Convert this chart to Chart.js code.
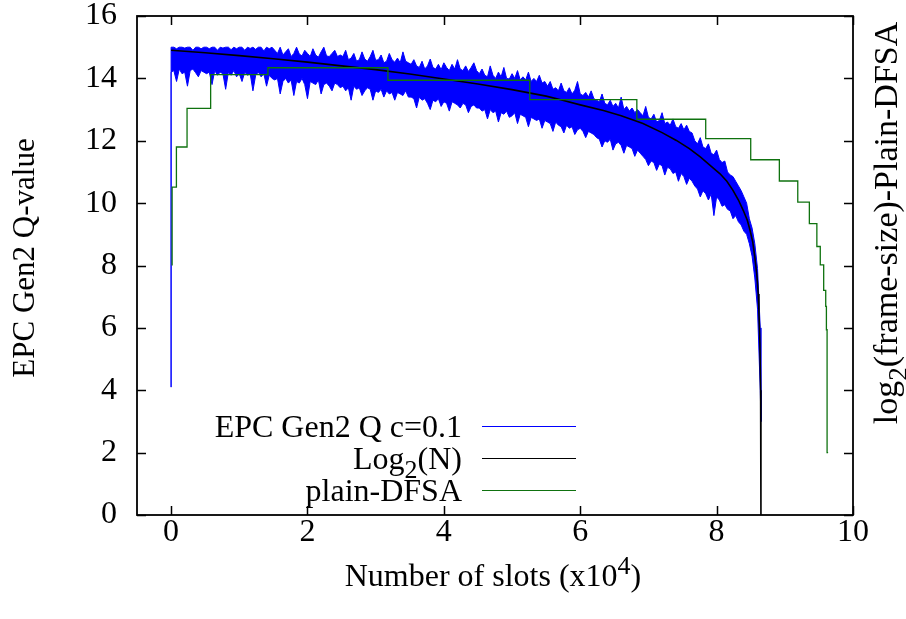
<!DOCTYPE html>
<html><head><meta charset="utf-8">
<script src="https://cdn.jsdelivr.net/npm/chart.js@4/dist/chart.umd.min.js"></script>
<style>html,body{margin:0;padding:0;background:#fff}canvas{display:block}</style>
</head><body>
<canvas id="c" width="906" height="619"></canvas>
<script>
// ---- data ----
const xTicks = [0, 2, 4, 6, 8, 10];
const yTicks = [0, 2, 4, 6, 8, 10, 12, 14, 16];

// EPC Gen2 Q c=0.1 : noisy trace, read as an upper and lower edge every blueStep (x10^4 slots)
const blueStep = 0.04;
const blueStartPoint = [0, 4.1];
const blueEndPoint = [8.65, 3.0];
const blueUpper = [
  15.0,15.0,14.95,15.0,15.0,14.97,15.0,15.0,14.9,15.0,15.0,14.95,15.0,
  15.0,14.95,15.0,15.0,14.9,15.0,14.97,15.0,15.0,14.92,15.0,14.95,15.0,15.0,14.9,15.0,14.96,15.0,14.93,15.0,15.0,14.88,15.0,14.95,15.0,
  14.9,14.8,15.0,14.75,14.85,14.95,14.7,14.8,15.0,14.78,14.72,14.9,14.8,14.7,14.95,14.75,14.68,14.85,15.0,14.72,14.7,14.8,14.9,14.7,14.75,
  14.7,14.9,14.6,14.65,14.8,14.55,14.6,14.85,14.62,14.55,14.7,14.9,14.58,14.6,14.75,14.5,14.55,14.8,14.6,14.52,14.65,14.5,14.85,14.55,14.5,
  14.45,14.6,14.4,14.35,14.55,14.3,14.4,14.62,14.35,14.3,14.45,14.28,14.5,14.35,14.25,14.45,14.3,14.6,14.3,14.25,14.4,14.22,14.35,14.5,14.25,
  14.15,14.3,14.1,14.05,14.4,14.1,14.0,14.2,14.05,14.35,14.0,13.98,14.15,14.0,14.25,13.95,14.05,13.95,14.2,13.9,14.0,13.9,14.1,13.85,13.9,
  13.75,13.9,13.65,13.7,13.6,13.85,13.6,13.55,13.7,13.5,13.62,13.9,13.5,13.45,13.55,13.4,13.6,13.35,
  13.3,13.25,13.5,13.2,13.15,13.3,13.1,13.2,13.05,13.4,13.0,13.1,12.95,13.05,12.9,13.0,12.9,
  12.8,13.1,12.75,12.7,12.85,12.6,12.65,12.9,12.55,12.6,12.5,12.7,12.45,12.4,12.55,12.35,12.5,12.3,12.25,
  12.0,11.9,12.1,11.8,11.75,11.9,11.6,11.55,11.7,11.4,11.3,11.35,
  11.0,10.9,10.85,10.7,10.55,10.4,10.2,10.0,
  9.5,9.2,8.7,7.9,6.0
];
const blueLower = [
  14.2,14.25,13.9,14.3,14.15,14.2,13.75,14.25,14.3,14.18,14.05,14.25,14.2,
  14.15,14.2,13.8,14.25,14.1,14.2,14.15,13.65,14.2,14.1,14.25,14.05,14.15,13.9,14.2,14.1,14.15,13.6,14.1,14.2,14.05,14.15,13.75,14.1,14.0,
  13.95,14.0,13.5,13.9,14.0,13.85,13.95,13.45,13.9,13.85,14.0,13.8,13.35,13.9,13.85,13.8,13.95,13.5,13.8,13.85,13.75,13.6,13.85,13.8,13.7,
  13.75,13.6,13.7,13.3,13.75,13.65,13.7,13.45,13.6,13.7,13.65,13.3,13.6,13.55,13.65,13.4,13.6,13.5,13.55,13.3,13.55,13.5,13.45,13.6,13.4,
  13.4,13.35,13.05,13.4,13.3,13.35,13.2,13.0,13.3,13.25,13.35,13.1,13.25,13.2,12.95,13.25,13.2,13.15,13.05,13.2,13.15,12.9,13.1,13.15,13.05,
  13.05,12.95,13.0,12.7,13.0,12.9,12.95,12.6,12.9,12.85,12.95,12.75,12.8,12.9,12.55,12.85,12.8,12.75,12.45,12.75,12.7,12.65,12.7,12.4,12.65,
  12.6,12.55,12.3,12.6,12.5,12.45,12.25,12.5,12.4,12.45,12.2,12.35,12.4,12.3,12.1,12.3,12.25,12.2,
  12.1,12.05,11.8,12.0,11.95,12.05,11.7,11.9,11.95,11.85,11.6,11.85,11.8,11.75,11.5,11.7,11.6,
  11.5,11.4,11.2,11.35,11.3,11.05,11.25,11.2,10.9,11.15,11.1,10.95,11.0,10.7,10.95,10.85,10.6,10.8,10.7,
  10.55,10.45,10.2,10.4,10.3,10.1,10.3,9.6,10.2,10.1,9.9,9.95,
  9.8,9.75,9.5,9.6,9.4,9.3,9.1,9.0,
  8.7,8.3,7.6,6.6,4.0
];

// Log2(N)
const log2X = [0,0.5,1,1.5,2,2.5,3,3.5,4,4.5,5,5.5,5.7,6,6.34,6.6,6.92,7.2,7.41,7.6,7.76,7.9,8.05,8.15,8.24,8.32,8.39,8.45,8.49,8.53,8.56,8.59,8.61,8.62,8.635,8.645,8.65];
const log2Y = [14.9,14.82,14.73,14.63,14.52,14.40,14.28,14.14,13.98,13.82,13.64,13.43,13.32,13.15,12.97,12.8,12.55,12.26,12.01,11.75,11.48,11.22,10.94,10.70,10.41,10.1,9.77,9.45,9.13,8.75,8.27,7.7,7.09,6.56,5.5,4.0,0];

// plain-DFSA (step line)
const dfsaX = [0.015,0.015,0.078,0.234,0.58,1.42,3.18,5.26,6.83,7.84,8.50,8.92,9.19,9.36,9.47,9.52,9.57,9.60,9.61,9.62,9.635];
const dfsaY = [8.0,9.26,10.51,11.8,13.04,14.12,14.34,13.94,13.32,12.69,12.07,11.39,10.71,10.03,9.34,8.61,8.02,7.2,6.69,5.94,2.0];

// ---- build datasets ----
const toPts = arr => arr.map((v, i) => ({x: +(i * blueStep).toFixed(3), y: v}));
const blueUpperData = [{x: blueStartPoint[0], y: blueStartPoint[1]}]
  .concat(toPts(blueUpper)).concat([{x: blueEndPoint[0], y: blueEndPoint[1]}]);
const blueLowerData = [{x: blueStartPoint[0], y: blueStartPoint[1]}]
  .concat(toPts(blueLower)).concat([{x: blueEndPoint[0], y: blueEndPoint[1]}]);
const log2Data = log2X.map((x, i) => ({x, y: log2Y[i]}));
const dfsaData = dfsaX.map((x, i) => ({x, y: dfsaY[i]}));

const FONT = "'Liberation Serif','Times New Roman',Times,serif";
const FS = 32;
const BLUE = '#0000ff', BLACK = '#000000', GREEN = '#0f720f';

function drawRich(ctx, segs, x, y, align, size) {
  let total = 0;
  const fontOf = s => ((s.sub || s.sup) ? Math.round(size * 0.8) : size) + 'px ' + FONT;
  const widths = segs.map(s => { ctx.font = fontOf(s); const w = ctx.measureText(s.t).width; total += w; return w; });
  let cx = align === 'right' ? x - total : (align === 'center' ? x - total / 2 : x);
  ctx.textAlign = 'left';
  ctx.textBaseline = 'alphabetic';
  segs.forEach((s, i) => {
    ctx.font = fontOf(s);
    const dy = s.sub ? size * 0.28 : (s.sup ? -size * 0.38 : 0);
    ctx.fillText(s.t, cx, y + dy);
    cx += widths[i];
  });
}

const legendItems = [
  {segs: [{t: 'EPC Gen2 Q c=0.1'}], color: BLUE},
  {segs: [{t: 'Log'}, {t: '2', sub: true}, {t: '(N)'}], color: BLACK},
  {segs: [{t: 'plain-DFSA'}], color: GREEN}
];

const framePlugin = {
  id: 'frame',
  afterDraw(chart) {
    const {ctx, chartArea: a, scales} = chart;
    ctx.save();
    ctx.strokeStyle = '#000';
    ctx.lineWidth = 1.5;
    ctx.beginPath();
    yTicks.forEach(v => {
      const py = Math.round(scales.y.getPixelForValue(v)) + 0.5;
      ctx.moveTo(a.left, py); ctx.lineTo(a.left + 9, py);
      ctx.moveTo(a.right, py); ctx.lineTo(a.right - 9, py);
    });
    xTicks.forEach(v => {
      const px = Math.round(scales.x.getPixelForValue(v)) + 0.5;
      ctx.moveTo(px, a.bottom); ctx.lineTo(px, a.bottom - 9);
      ctx.moveTo(px, a.top); ctx.lineTo(px, a.top + 9);
    });
    ctx.stroke();
    ctx.lineWidth = 1.8;
    ctx.strokeRect(a.left, a.top, a.right - a.left, a.bottom - a.top);

    // legend
    ctx.fillStyle = '#000';
    const lineY = [426, 458, 490];
    legendItems.forEach((it, i) => {
      drawRich(ctx, it.segs, 462, lineY[i] + 11, 'right', FS);
      ctx.strokeStyle = it.color; ctx.lineWidth = 1.2;
      ctx.beginPath(); ctx.moveTo(482, lineY[i] + 0.5); ctx.lineTo(576, lineY[i] + 0.5); ctx.stroke();
    });

    // x title
    ctx.fillStyle = '#000';
    drawRich(ctx, [{t: 'Number of slots (x10'}, {t: '4', sup: true}, {t: ')'}], (a.left + a.right) / 2 - 2, 586, 'center', FS);

    // left y title
    ctx.save();
    ctx.translate(34, 258);
    ctx.rotate(-Math.PI / 2);
    drawRich(ctx, [{t: 'EPC Gen2 Q-value'}], 0, 0, 'center', 31);
    ctx.restore();

    // right y title
    ctx.save();
    ctx.translate(897, 223);
    ctx.rotate(-Math.PI / 2);
    drawRich(ctx, [{t: 'log'}, {t: '2', sub: true}, {t: '(frame-size)-Plain-DFSA'}], 0, 0, 'center', 34);
    ctx.restore();
    ctx.restore();
  }
};

new Chart(document.getElementById('c').getContext('2d'), {
  type: 'line',
  data: {
    datasets: [
      {label: 'EPC Gen2 Q c=0.1', data: blueUpperData, borderColor: BLUE, borderWidth: 1, pointRadius: 0, tension: 0, order: 4, fill: false},
      {label: 'EPC Gen2 Q c=0.1 (lower edge)', data: blueLowerData, borderColor: BLUE, backgroundColor: BLUE, borderWidth: 1, pointRadius: 0, tension: 0, order: 3, fill: '-1'},
      {label: 'Log2(N)', data: log2Data, borderColor: BLACK, borderWidth: 1.6, pointRadius: 0, tension: 0, order: 2, fill: false},
      {label: 'plain-DFSA', data: dfsaData, borderColor: GREEN, borderWidth: 1.3, pointRadius: 0, stepped: 'after', order: 1, fill: false}
    ]
  },
  options: {
    responsive: false,
    animation: false,
    events: [],
    layout: {padding: {top: 16, left: 0, right: 0, bottom: 0}},
    plugins: {legend: {display: false}, tooltip: {enabled: false}},
    scales: {
      x: {
        type: 'linear', min: -0.5, max: 10,
        afterBuildTicks: s => { s.ticks = xTicks.map(v => ({value: v})); },
        afterFit: s => { s.height = 104; s.paddingLeft = 0; s.paddingRight = 0; },
        grid: {display: false, drawTicks: false},
        border: {display: false},
        ticks: {font: {family: FONT, size: FS}, color: '#000', padding: -2, maxRotation: 0, autoSkip: false}
      },
      y: {
        type: 'linear', min: 0, max: 16, position: 'left',
        afterBuildTicks: s => { s.ticks = yTicks.map(v => ({value: v})); },
        afterFit: s => { s.width = 137; s.paddingTop = 0; s.paddingBottom = 0; },
        grid: {display: false, drawTicks: false},
        border: {display: false},
        ticks: {font: {family: FONT, size: FS}, color: '#000', padding: 20, autoSkip: false}
      },
      y2: {
        type: 'linear', min: 0, max: 16, position: 'right',
        afterFit: s => { s.width = 53; s.paddingTop = 0; s.paddingBottom = 0; },
        grid: {display: false, drawTicks: false},
        border: {display: false},
        ticks: {display: false}
      }
    }
  },
  plugins: [framePlugin]
});
</script>
</body></html>
